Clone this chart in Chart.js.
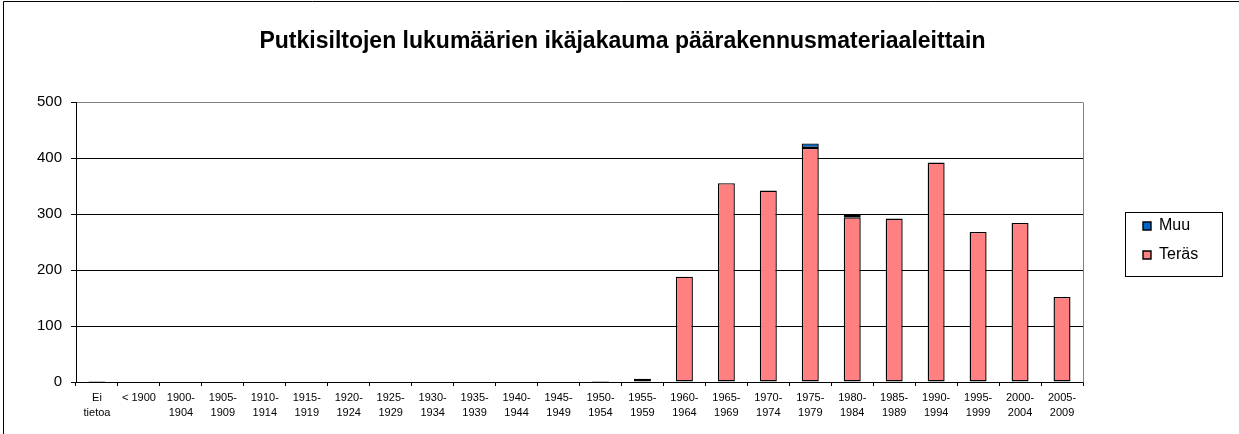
<!DOCTYPE html>
<html>
<head>
<meta charset="utf-8">
<script src="https://cdn.jsdelivr.net/npm/chart.js@4.4.1/dist/chart.umd.min.js"></script>
<style>
html,body{margin:0;padding:0;background:#fff;}
#wrap{width:1239px;height:434px;position:relative;}
</style>
</head>
<body>
<div id="wrap"><canvas id="c" width="1239" height="434"></canvas></div>
<script>
const chartTitle = "Putkisiltojen lukumäärien ikäjakauma päärakennusmateriaaleittain";
const categories = [
  ["Ei","tietoa"], "< 1900", ["1900-","1904"], ["1905-","1909"], ["1910-","1914"],
  ["1915-","1919"], ["1920-","1924"], ["1925-","1929"], ["1930-","1934"], ["1935-","1939"],
  ["1940-","1944"], ["1945-","1949"], ["1950-","1954"], ["1955-","1959"], ["1960-","1964"],
  ["1965-","1969"], ["1970-","1974"], ["1975-","1979"], ["1980-","1984"], ["1985-","1989"],
  ["1990-","1994"], ["1995-","1999"], ["2000-","2004"], ["2005-","2009"]
];
const terasValues = [2,0,0,0,0,0,0,0,0,0,0,0,2,6,188,355,342,418,294,292,392,268,284,152];
const muuValues   = [0,0,0,0,0,0,0,0,0,0,0,0,0,0,0,0,0,8,5,0,0,0,0,0];
const yMin = 0, yMax = 500, yStep = 100;

const FONT = "'Liberation Sans', Arial, sans-serif";

const layoutPlugin = {
  id: 'layoutPlugin',
  afterInit(chart) {
    const lg = chart.legend;
    if (lg) {
      const origFit = lg.fit.bind(lg);
      lg.fit = function() { origFit(); this.width = 0; };
    }
  },
  afterLayout(chart) {
    const lg = chart.legend;
    if (lg) {
      lg.left = 1130; lg.right = 1222; lg.top = 200; lg.bottom = 281;
      lg.width = lg.right - lg.left; lg.height = lg.bottom - lg.top;
    }
    const tb = chart.titleBlock;
    if (tb) {
      tb.left = 0; tb.right = 1245; tb.width = 1245;
    }
  },
  beforeDraw(chart) {
    const ctx = chart.ctx;
    ctx.save();
    ctx.fillStyle = '#fff';
    ctx.fillRect(0, 0, chart.width, chart.height);
    ctx.restore();
  },
  afterDraw(chart) {
    const ctx = chart.ctx;
    const a = chart.chartArea;
    ctx.save();
    ctx.lineWidth = 1;
    // outer frame
    ctx.strokeStyle = '#000';
    ctx.beginPath();
    ctx.moveTo(3.5, chart.height);
    ctx.lineTo(3.5, 1.5);
    ctx.lineTo(chart.width, 1.5);
    ctx.stroke();
    // plot area right border
    ctx.strokeStyle = '#808080';
    const xr = Math.round(a.right) + 0.5;
    ctx.beginPath();
    ctx.moveTo(xr, Math.round(a.top) + 0.5);
    ctx.lineTo(xr, Math.round(a.bottom) + 0.5);
    ctx.stroke();
    // legend border
    ctx.strokeStyle = '#000';
    ctx.strokeRect(1125.5, 212.5, 97, 64);
    ctx.restore();
  }
};

new Chart(document.getElementById('c'), {
  type: 'bar',
  data: {
    labels: categories,
    datasets: [
      {
        label: 'Teräs',
        data: terasValues,
        backgroundColor: '#FF8080',
        borderColor: '#000',
        borderWidth: 1.4,
        borderSkipped: false
      },
      {
        label: 'Muu',
        data: muuValues,
        backgroundColor: '#0066CC',
        borderColor: '#000',
        borderWidth: 1.4,
        borderSkipped: false
      }
    ]
  },
  options: {
    responsive: false,
    animation: false,
    devicePixelRatio: 1,
    layout: { padding: { left: 0, right: 156, top: 0, bottom: 0 } },
    datasets: { bar: { barPercentage: 0.405, categoryPercentage: 1.0 } },
    plugins: {
      title: {
        display: true,
        text: chartTitle,
        color: '#000',
        font: { family: FONT, size: 23, weight: 'bold', lineHeight: 1.2 },
        padding: { top: 28.2, bottom: 46.2 }
      },
      legend: {
        display: true,
        position: 'right',
        reverse: true,
        align: 'center',
        labels: {
          color: '#000',
          font: { family: FONT, size: 16 },
          boxWidth: 8,
          boxHeight: 8,
          padding: 13
        }
      },
      tooltip: { enabled: false }
    },
    scales: {
      x: {
        stacked: true,
        afterFit(scale) { scale.height = 52; },
        grid: {
          display: true,
          drawOnChartArea: false,
          drawTicks: true,
          tickLength: 4,
          color: '#000',
          tickColor: '#000',
          offset: true
        },
        border: { display: true, color: '#000', width: 1 },
        ticks: {
          autoSkip: false,
          maxRotation: 0,
          minRotation: 0,
          padding: 4,
          color: '#000',
          font: { family: FONT, size: 11, lineHeight: 1.41 }
        }
      },
      y: {
        stacked: true,
        min: yMin,
        max: yMax,
        afterFit(scale) { scale.width = 76; },
        grid: {
          display: true,
          drawOnChartArea: true,
          drawTicks: true,
          tickLength: 5,
          color: (c) => (c.tick && c.tick.value === yMax) ? '#808080' : '#000',
          tickColor: '#000',
          lineWidth: 1
        },
        border: { display: true, color: '#000', width: 1 },
        ticks: {
          stepSize: yStep,
          padding: 9,
          color: '#000',
          font: { family: FONT, size: 15 }
        }
      }
    }
  },
  plugins: [layoutPlugin]
});
</script>
</body>
</html>
